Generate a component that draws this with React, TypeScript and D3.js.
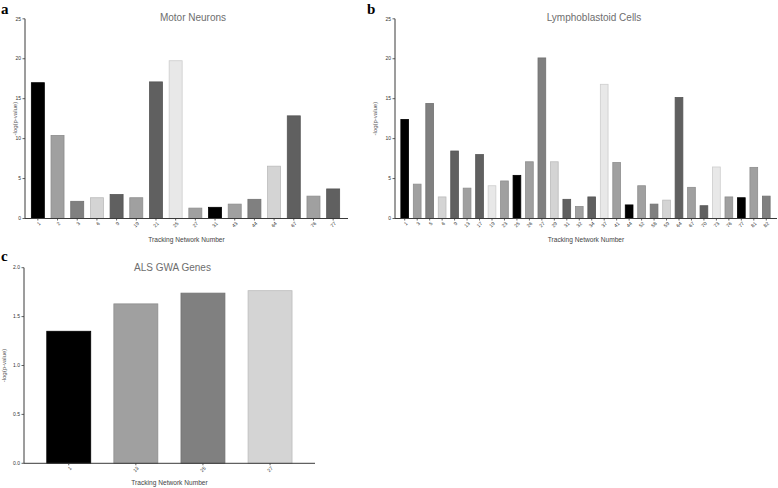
import React from 'react';
import * as d3 from 'd3';

// Motor neurons panel (a)
const motorLabels = ['1', '2', '3', '6', '9', '19', '21', '25', '27', '31', '43', '44', '64', '67', '76', '77'];
const motorValues = [17.0, 10.4, 2.15, 2.6, 3.0, 2.6, 17.1, 19.75, 1.3, 1.4, 1.8, 2.4, 6.55, 12.85, 2.8, 3.7];

// Lymphoblastoid cells panel (b)
const lymphoLabels = [
  '1', '3', '5', '6', '9', '13', '17', '19', '23', '25', '26', '27', '29', '31', '32',
  '34', '37', '41', '44', '52', '58', '59', '64', '67', '70', '73', '76', '77', '81', '82',
];
const lymphoValues = [
  12.4, 4.3, 14.4, 2.7, 8.45, 3.8, 8.0, 4.1, 4.7, 5.4, 7.1, 20.1, 7.1, 2.4, 1.5,
  2.7, 16.8, 7.0, 1.7, 4.1, 1.8, 2.3, 15.15, 3.9, 1.6, 6.45, 2.7, 2.6, 6.4, 2.8,
];

// ALS GWA genes panel (c)
const alsLabels = ['1', '13', '25', '27'];
const alsValues = [1.35, 1.63, 1.74, 1.765];

const ticks25 = [0, 5, 10, 15, 20, 25];
const ticks2 = [0, 0.5, 1.0, 1.5, 2.0];

// grey cycle used by the original plotting software
const PALETTE = ['#000000', '#a0a0a0', '#808080', '#d4d4d4', '#606060', '#a0a0a0', '#606060', '#e8e8e8', '#a0a0a0'];

const SANS = "'Liberation Sans', Arial, sans-serif";
const SERIF = "'Liberation Serif', 'Times New Roman', serif";

interface PanelProps {
  labels: string[];
  values: number[];
  yTicks: number[];
  yFmt: (v: number) => string;
  axisX: [number, number];
  axisY: [number, number]; // [bottom, top]
  band: [number, number];
  padInner: number;
  title: string;
  titleX: number;
  titleY: number;
  letter: string;
  letterX: number;
  letterY: number;
  yLabelX: number;
  xLabelY: number;
}

function BarPanel(p: PanelProps) {
  const x = d3.scaleBand<string>()
    .domain(p.labels)
    .range(p.band)
    .paddingInner(p.padInner)
    .paddingOuter(p.padInner / 2);

  const yMax = p.yTicks[p.yTicks.length - 1];
  const y = d3.scaleLinear().domain([0, yMax]).range(p.axisY);
  const y0 = y(0);
  const axisColor = '#3a3a3a';

  return (
    <g>
      {/* bars */}
      {p.labels.map((lab, i) => {
        const fill = PALETTE[i % PALETTE.length];
        const stroke = d3.color(fill)!.darker(0.35).formatHex();
        return (
          <rect
            key={lab}
            x={x(lab)}
            y={y(p.values[i])}
            width={x.bandwidth()}
            height={y0 - y(p.values[i])}
            fill={fill}
            stroke={stroke}
            strokeWidth={0.8}
          />
        );
      })}

      {/* y axis */}
      <line x1={p.axisX[0]} x2={p.axisX[0]} y1={y0} y2={y(yMax)} stroke={axisColor} strokeWidth={1} />
      {p.yTicks.map(t => (
        <g key={t} transform={`translate(${p.axisX[0]},${y(t)})`}>
          <line x1={-2.5} x2={0} stroke={axisColor} strokeWidth={0.8} />
          <text x={-4} dy="0.35em" textAnchor="end" fontSize={5} fill="#333" fontFamily={SANS}>
            {p.yFmt(t)}
          </text>
        </g>
      ))}

      {/* x axis */}
      <line x1={p.axisX[0]} x2={p.axisX[1]} y1={y0} y2={y0} stroke={axisColor} strokeWidth={1} />
      {p.labels.map(lab => {
        const cx = (x(lab) ?? 0) + x.bandwidth() / 2;
        return (
          <g key={lab}>
            <line x1={cx} x2={cx} y1={y0} y2={y0 + 2} stroke={axisColor} strokeWidth={0.8} />
            <text
              transform={`translate(${cx + 2},${y0 + 4}) rotate(-45)`}
              textAnchor="end"
              dy="0.35em"
              fontSize={5}
              fill="#333"
              fontFamily={SANS}
            >
              {lab}
            </text>
          </g>
        );
      })}

      {/* axis titles */}
      <text
        transform={`translate(${p.yLabelX},${(y0 + y(yMax)) / 2}) rotate(-90)`}
        textAnchor="middle"
        fontSize={6}
        fill="#555"
        fontFamily={SANS}
      >
        -log(p-value)
      </text>
      <text
        x={(p.axisX[0] + p.axisX[1]) / 2}
        y={p.xLabelY}
        textAnchor="middle"
        fontSize={6.6}
        fill="#444"
        fontFamily={SANS}
      >
        Tracking Network Number
      </text>

      {/* title and panel letter */}
      <text x={p.titleX} y={p.titleY} textAnchor="middle" fontSize={10} fill="#6e6e6e" fontFamily={SANS}>
        {p.title}
      </text>
      <text x={p.letterX} y={p.letterY} fontSize={15} fontWeight="bold" fill="#000" fontFamily={SERIF}>
        {p.letter}
      </text>
    </g>
  );
}

export default function App() {
  const fmtInt = (v: number) => d3.format('d')(v);
  const fmt1 = (v: number) => d3.format('.1f')(v);

  return (
    <svg
      width={778}
      height={488}
      style={{ position: 'absolute', left: 0, top: 0, background: '#fff' }}
    >
      <BarPanel
        labels={motorLabels}
        values={motorValues}
        yTicks={ticks25}
        yFmt={fmtInt}
        axisX={[25, 348]}
        axisY={[218.5, 18.8]}
        band={[28, 343]}
        padInner={0.34}
        title="Motor Neurons"
        titleX={193}
        titleY={20.5}
        letter="a"
        letterX={1}
        letterY={13.6}
        yLabelX={17}
        xLabelY={241.5}
      />
      <BarPanel
        labels={lymphoLabels}
        values={lymphoValues}
        yTicks={ticks25}
        yFmt={fmtInt}
        axisX={[395, 777]}
        axisY={[218.5, 18.8]}
        band={[398.5, 772.5]}
        padInner={0.38}
        title="Lymphoblastoid Cells"
        titleX={594}
        titleY={20.5}
        letter="b"
        letterX={367}
        letterY={13.6}
        yLabelX={377}
        xLabelY={241.5}
      />
      <BarPanel
        labels={alsLabels}
        values={alsValues}
        yTicks={ticks2}
        yFmt={fmt1}
        axisX={[24, 315]}
        axisY={[463.3, 267.7]}
        band={[35.2, 303.6]}
        padInner={0.345}
        title="ALS GWA Genes"
        titleX={172.5}
        titleY={270.5}
        letter="c"
        letterX={1}
        letterY={261}
        yLabelX={6}
        xLabelY={485}
      />
    </svg>
  );
}
